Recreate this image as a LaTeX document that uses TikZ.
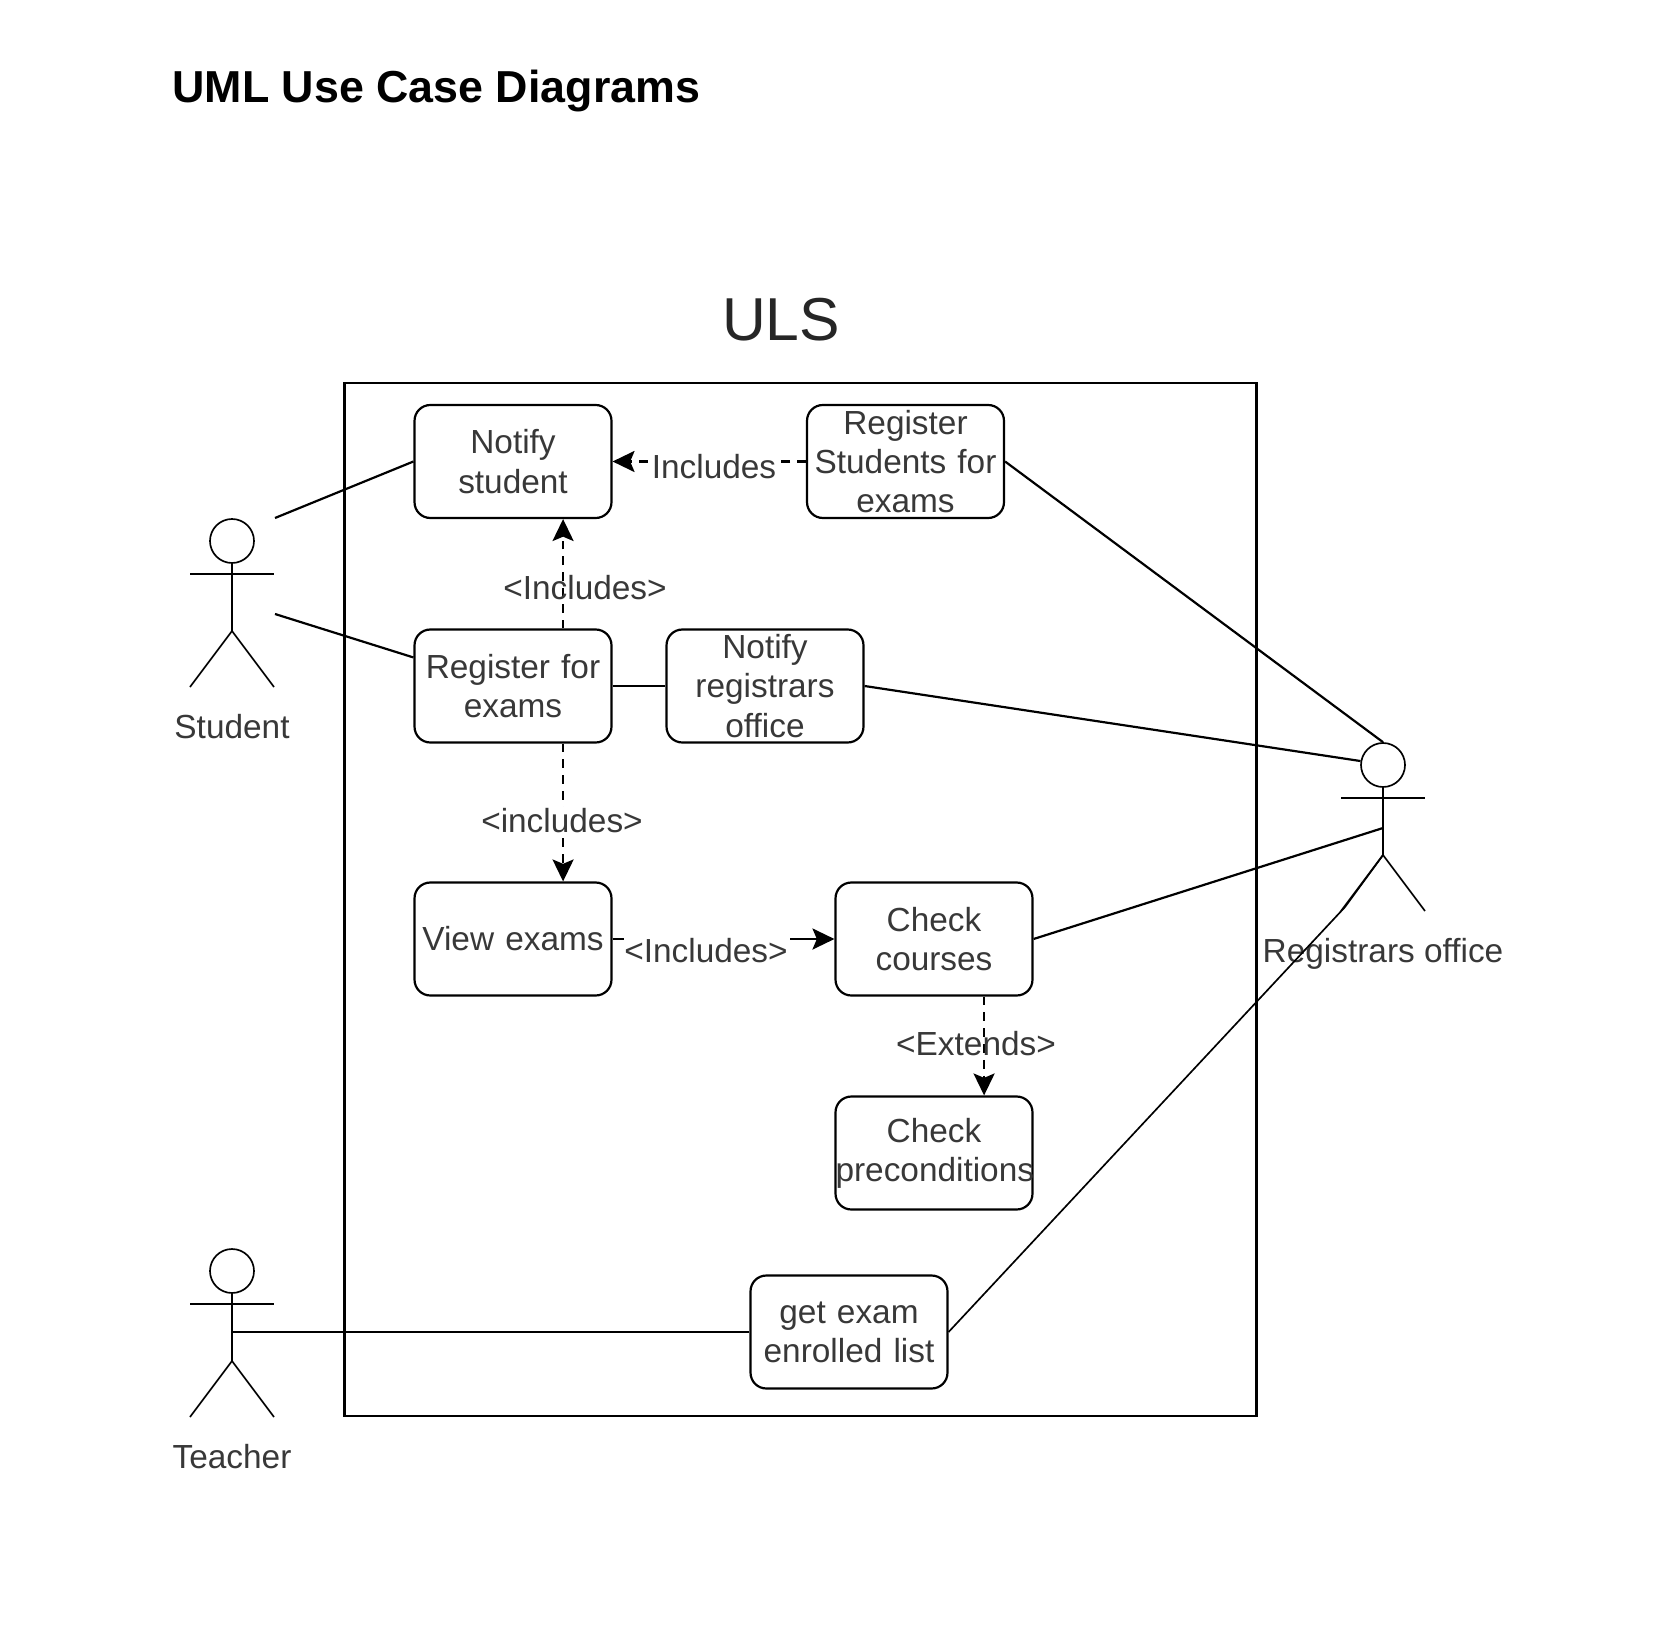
\documentclass[tikz,border=0pt]{standalone}
\usepackage{fontspec}
\setmainfont{Liberation Sans}
\usetikzlibrary{arrows.meta}

\tikzset{
  usecase/.style={draw, line width=1.25pt, rounded corners=9pt, text width=3.94cm, minimum height=2.26cm,
    inner sep=0pt, align=center, text=black!78},
  tag/.style={text=black!78, inner sep=1pt},
  tagfill/.style={tag, fill=white},
  link/.style={line width=1.25pt},
  tip/.style={-{Stealth[length=12.5pt, width=12pt, inset=2.5pt]}},
  dep/.style={line width=1.3pt, dash pattern=on 5pt off 4pt, tip},
  limb/.style={line width=0.95pt},
}

\begin{document}
\begin{tikzpicture}[x=0.02cm, y=-0.02cm, font=\fontsize{19}{22.3}\selectfont]
    \useasboundingbox (0,0) rectangle (1662,1648);
    \node[anchor=west, inner sep=0pt, font=\fontsize{25.5}{30}\selectfont\bfseries] (title) at (172,91) {UML Use Case Diagrams};
    \node[text=black!85, inner sep=0pt, font=\fontsize{34.5}{40}\selectfont] (uls) at (781,320) {ULS};
    \node[draw, line width=1.4pt, minimum width=18.25cm, minimum height=20.66cm, inner sep=0pt] (frame) at (800.5,899.5) {};

    % use cases
    \node[usecase] (notifystu) at (513,461.5) {Notify\\student};
    \node[usecase] (regstu) at (905.5,461.5) {Register\\Students for\\exams};
    \node[usecase] (regfor) at (513,686) {Register for\\exams};
    \node[usecase] (notifyreg) at (765,686) {Notify\\registrars\\office};
    \node[usecase] (view) at (513,939) {View exams};
    \node[usecase] (check) at (934,939) {Check\\courses};
    \node[usecase] (precond) at (934,1153) {Check\\preconditions};
    \node[usecase] (enrolled) at (849,1332) {get exam\\enrolled list};

    % actors
    \foreach \a/\x/\y/\l/\t in {stu/232/541/186/Student, tea/232/1271/186/Teacher, reg/1383/765/189/Registrars office} {
      \node[draw, circle, limb, minimum size=0.88cm, inner sep=0pt] (\a head) at (\x,\y) {};
      \coordinate (\a hip) at (\x,\y+90);
      \coordinate (\a larm) at (\x-42,\y+33);
      \coordinate (\a rarm) at (\x+42,\y+33);
      \coordinate (\a lfoot) at (\x-42,\y+146);
      \coordinate (\a rfoot) at (\x+42,\y+146);
      \node[tag] (\a name) at (\x,\y+\l) {\t};
      \draw[limb] (\a head.south) -- (\a hip);
      \draw[limb] (\a larm) -- (\a rarm);
      \draw[limb] (\a lfoot) -- (\a hip) -- (\a rfoot);
    }

    % free ends
    \coordinate (stutop) at (275,518);
    \coordinate (stulow) at (275,614);
    \coordinate (regwaist) at (1383,828);
    \coordinate (regleg) at (1345,907);
    \coordinate (viewend) at (624,939);
    \coordinate (checkstart) at (790,939);

    % associations
    \draw[link] (stutop) -- (notifystu.west);
    \draw[link] (stulow) -- (regfor.164);
    \draw[link] (regfor.east) -- (notifyreg.west);
    \draw[link] (notifyreg.east) -- (reghead.170);
    \draw[link] (regstu.east) -- (reghead.north);
    \draw[link] (check.east) -- (regwaist);
    \draw[link] (teahip |- enrolled.west) -- (enrolled.west);
    \draw[limb] (enrolled.east) -- (regleg) -- (reghip);

    % dependencies
    \draw[dep] (regstu.west) -- (notifystu.east);
    \node[tagfill] (inctop) at (714,467) {Includes};
    \draw[dep] ([xshift=28.5pt]regfor.north) -- ([xshift=28.5pt]notifystu.south);
    \node[tag] (incup) at (585,588) {<Includes>};
    \draw[dep] ([xshift=28.5pt]regfor.south) -- ([xshift=28.5pt]view.north);
    \node[tagfill] (incdown) at (562,821) {<includes>};
    \draw[link] (view.east) -- (viewend);
    \node[tag] (incview) at (706,951) {<Includes>};
    \draw[link, tip] (checkstart) -- (check.west);
    \draw[dep] ([xshift=28.5pt]check.south) -- ([xshift=28.5pt]precond.north);
    \node[tag] (ext) at (976,1044) {<Extends>};
\end{tikzpicture}
\end{document}
